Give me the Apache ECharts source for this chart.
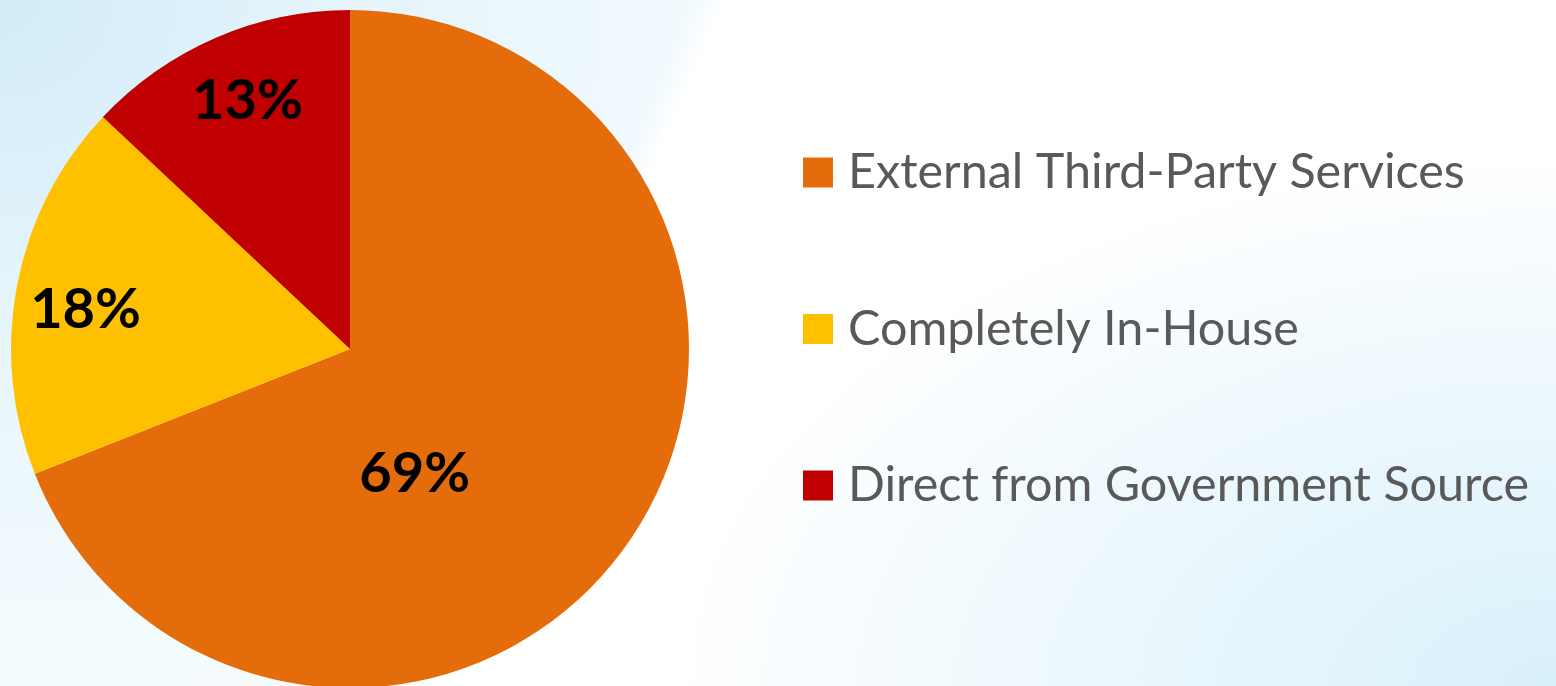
<!DOCTYPE html>
<html>
<head>
<meta charset="utf-8">
<script src="https://cdn.jsdelivr.net/npm/echarts@6/dist/echarts.min.js"></script>
<style>
  html, body { margin: 0; padding: 0; width: 1556px; height: 686px; overflow: hidden; background: #ffffff; }
  #bg-left {
    position: absolute; left: 0; top: 0; width: 1556px; height: 686px;
    background: radial-gradient(ellipse 820px 720px at 0 0, #d2ecf8 0%, #e4f4fb 40%, #eff9fd 75%, #f6fcfe 100%);
    -webkit-mask-image: linear-gradient(113deg, #000 37.5%, rgba(0,0,0,0) 39.3%);
    mask-image: linear-gradient(113deg, #000 37.5%, rgba(0,0,0,0) 39.3%);
  }
  #bg-right {
    position: absolute; left: 0; top: 0; width: 1556px; height: 686px;
    background: radial-gradient(ellipse 900px 540px at 100% 100%, #d8f0fa 0%, rgba(226,244,252,0.75) 45%, rgba(255,255,255,0) 100%);
  }
  #chart { position: absolute; left: 0; top: 0; width: 1556px; height: 686px; }
</style>
</head>
<body>
<div id="bg-right"></div>
<div id="bg-left"></div>
<div id="chart"></div>
<script>
// Share of data sourcing approach
const categories = ['External Third-Party Services', 'Completely In-House', 'Direct from Government Source'];
const values = [69, 18, 13];
const colors = ['#E46C0A', '#FFC000', '#C00000'];

// Label nudges away from the default mid-radius spot
const labelShift = [[-78, 28], [-95, -7], [-34, -90]];

const chart = echarts.init(document.getElementById('chart'), null, { renderer: 'canvas' });

chart.setOption({
  backgroundColor: 'transparent',
  animation: false,
  legend: {
    orient: 'vertical',
    left: 803,
    top: 148,
    padding: 0,
    itemWidth: 30,
    itemHeight: 30,
    itemGap: 107.5,
    icon: 'rect',
    selectedMode: false,
    textStyle: {
      fontFamily: 'Lato',
      fontSize: 48.5,
      color: '#595959',
      padding: [0, 0, 0, 10]
    },
    data: categories
  },
  series: [{
    type: 'pie',
    center: [350, 349],
    radius: 339,
    startAngle: 90,
    clockwise: true,
    silent: true,
    label: {
      show: true,
      position: 'inside',
      formatter: p => p.value + '%',
      fontFamily: 'Lato',
      fontWeight: 'bold',
      fontSize: 56,
      color: '#000000'
    },
    labelLine: { show: false },
    labelLayout: p => ({ dx: labelShift[p.dataIndex][0], dy: labelShift[p.dataIndex][1] }),
    itemStyle: { borderWidth: 0 },
    data: categories.map((name, i) => ({
      name,
      value: values[i],
      itemStyle: { color: colors[i] }
    }))
  }]
});
</script>
</body>
</html>
